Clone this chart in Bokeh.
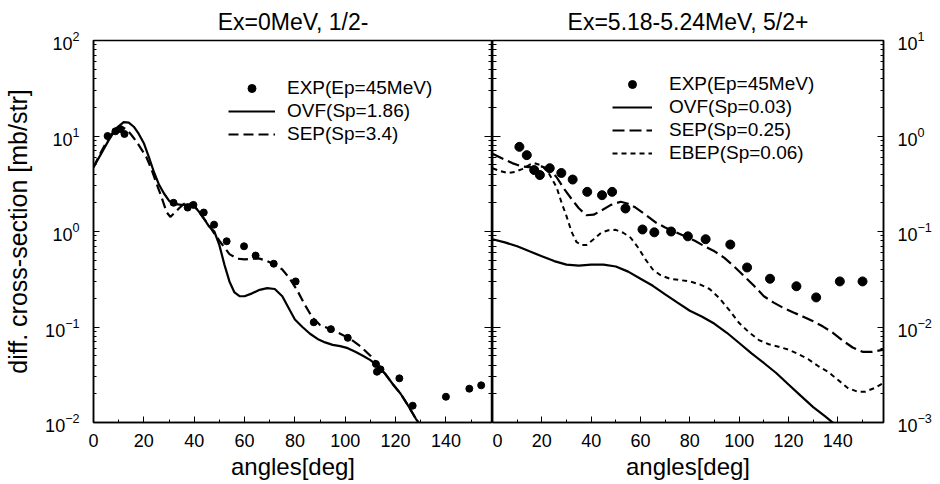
from bokeh.plotting import figure
from bokeh.layouts import row
from bokeh.models import (Range1d, FixedTicker, LogAxis, Legend, LegendItem,
                          LogTickFormatter, CustomJSTickFormatter)
from bokeh.embed import file_html
from bokeh.resources import INLINE

FONT = "Liberation Sans"

# ---------------- data: left panel (Ex=0MeV, 1/2-) ----------------
l_exp_x = [5.6, 8.7, 10.7, 12.3, 31.8, 37.4, 39.7, 43.8, 47.9, 52.9, 59.8, 64.4,
           71.6, 80.3, 87.5, 94.3, 101.0, 112.2, 112.6, 114.0, 121.5, 126.8,
           140.0, 149.3, 154.0]
l_exp_y = [10.0, 11.2, 11.8, 10.5, 2.0, 1.78, 1.9, 1.58, 1.18, 0.79, 0.70, 0.56,
           0.46, 0.30, 0.112, 0.095, 0.077, 0.041, 0.034, 0.036, 0.029, 0.015,
           0.0186, 0.0226, 0.0245]

l_ovf_x = [0, 3, 6, 9, 12, 14, 16, 18, 20, 22, 24, 26, 28, 30, 32, 35, 38, 40, 42,
           44, 46, 48, 50, 52, 54, 56, 58, 60, 63, 66, 69, 72, 75, 78, 80, 83, 86,
           89, 92, 95, 98, 101, 104, 107, 110, 113, 116, 119, 122, 125, 128, 131]
l_ovf_y = [4.7, 6.5, 9.0, 12.0, 14.0, 13.8, 12.5, 10.5, 8.4, 6.0, 4.2, 3.1, 2.5,
           2.1, 1.95, 1.9, 1.92, 1.85, 1.6, 1.35, 1.12, 1.0, 0.72, 0.45, 0.3, 0.23,
           0.21, 0.21, 0.225, 0.245, 0.255, 0.25, 0.21, 0.15, 0.12, 0.10, 0.085,
           0.075, 0.069, 0.065, 0.063, 0.06, 0.055, 0.05, 0.045, 0.039, 0.032,
           0.025, 0.02, 0.015, 0.011, 0.0085]

l_sep_x = [0, 3, 6, 9, 11, 13, 15, 17, 19, 21, 23, 25, 27, 29, 30.5, 32, 34, 36,
           38, 40, 42, 44, 46, 48, 50, 52, 54, 57, 60, 63, 66, 69, 72, 75, 78, 81,
           84, 87, 90, 94, 98, 102, 106, 110, 113, 116, 119, 122, 125, 128, 131]
l_sep_y = [4.7, 6.8, 9.5, 12.0, 12.5, 11.8, 10.3, 8.8, 7.3, 6.0, 4.5, 3.2, 2.3,
           1.6, 1.42, 1.55, 1.75, 1.95, 2.0, 1.85, 1.6, 1.35, 1.15, 0.95, 0.8,
           0.68, 0.58, 0.52, 0.51, 0.52, 0.52, 0.49, 0.45, 0.40, 0.32, 0.24, 0.17,
           0.125, 0.105, 0.095, 0.085, 0.075, 0.063, 0.05, 0.04, 0.032, 0.025,
           0.02, 0.015, 0.011, 0.0085]

# ---------------- data: right panel (Ex=5.18-5.24MeV, 5/2+) ----------------
r_exp_x = [10.9, 13.9, 16.9, 19.2, 23.2, 27.9, 32.5, 38.4, 44.4, 48.5, 53.9, 60.8,
           65.6, 72.4, 79.2, 86.4, 96.4, 103.2, 112.5, 123.2, 131.2, 140.8, 150.0]
r_exp_y = [0.77, 0.63, 0.44, 0.39, 0.46, 0.41, 0.35, 0.26, 0.24, 0.26, 0.174,
           0.105, 0.098, 0.10, 0.089, 0.083, 0.073, 0.042, 0.032, 0.0267, 0.0204,
           0.030, 0.030]

r_ovf_x = [0, 5, 10, 15, 20, 25, 30, 35, 40, 45, 50, 55, 60, 65, 70, 75, 80, 85,
           90, 95, 100, 105, 110, 115, 120, 125, 130, 135, 140]
r_ovf_y = [0.083, 0.077, 0.07, 0.062, 0.055, 0.049, 0.045, 0.044, 0.045, 0.045,
           0.043, 0.038, 0.032, 0.027, 0.022, 0.018, 0.0148, 0.0128, 0.0108,
           0.0087, 0.0068, 0.0053, 0.0042, 0.0033, 0.0025, 0.0019, 0.00145,
           0.00115, 0.0009]

r_sep_x = [0, 4, 8, 12, 16, 20, 23, 26, 29, 32, 35, 38, 41, 44, 48, 52, 55, 58,
           62, 66, 70, 74, 78, 82, 86, 90, 94, 98, 102, 106, 110, 114, 118, 122,
           126, 130, 134, 138, 142, 146, 150, 154, 158.5]
r_sep_y = [0.65, 0.58, 0.52, 0.48, 0.47, 0.48, 0.45, 0.37, 0.28, 0.22, 0.175,
           0.148, 0.15, 0.165, 0.19, 0.205, 0.195, 0.178, 0.15, 0.125, 0.11,
           0.099, 0.089, 0.08, 0.07, 0.062, 0.053, 0.043, 0.034, 0.027, 0.021,
           0.018, 0.0158, 0.0142, 0.0128, 0.0115, 0.0101, 0.0087, 0.0072, 0.0061,
           0.0055, 0.0055, 0.0058]

r_ebep_x = [0, 3, 6, 9, 12, 15, 17, 20, 23, 26, 28, 30, 32, 34, 36, 38, 41, 44,
            47, 50, 53, 56, 59, 62, 65, 68, 72, 76, 80, 84, 88, 92, 96, 100, 104,
            108, 112, 116, 120, 124, 128, 132, 136, 140, 144, 148, 151, 155, 158.5]
r_ebep_y = [0.46, 0.43, 0.41, 0.42, 0.45, 0.5, 0.52, 0.49, 0.40, 0.29, 0.2, 0.145,
            0.1, 0.078, 0.072, 0.072, 0.083, 0.097, 0.103, 0.104, 0.097, 0.086,
            0.068, 0.051, 0.04, 0.035, 0.032, 0.031, 0.03, 0.028, 0.025, 0.020,
            0.015, 0.011, 0.0088, 0.0073, 0.0066, 0.0062, 0.0058, 0.0052, 0.0046,
            0.0039, 0.0034, 0.0028, 0.0023, 0.0021, 0.0021, 0.0023, 0.0026]

x_ticks = [0, 20, 40, 60, 80, 100, 120, 140]
x_minor = [10, 30, 50, 70, 90, 110, 130, 150]
panel_titles = ["Ex=0MeV, 1/2-", "Ex=5.18-5.24MeV, 5/2+"]
x_label = "angles[deg]"
y_label = "diff. cross-section [mb/str]"
leg_left = ["EXP(Ep=45MeV)", "OVF(Sp=1.86)", "SEP(Sp=3.4)"]
leg_right = ["EXP(Ep=45MeV)", "OVF(Sp=0.03)", "SEP(Sp=0.25)", "EBEP(Sp=0.06)"]


def decades(lo, hi):
    major = [10.0 ** e for e in range(lo, hi + 1)]
    minor = [k * 10.0 ** e for e in range(lo, hi) for k in range(2, 10)]
    return major, minor


def style_x(ax):
    ax.ticker = FixedTicker(ticks=x_ticks, minor_ticks=x_minor)
    ax.major_tick_in = 6
    ax.major_tick_out = 0
    ax.minor_tick_in = 3
    ax.minor_tick_out = 0
    ax.axis_line_color = "black"
    ax.axis_line_width = 1.5
    ax.major_label_text_font = FONT
    ax.major_label_text_font_size = "18px"
    ax.major_label_text_color = "black"
    ax.major_label_standoff = 11
    ax.axis_label = x_label
    ax.axis_label_text_font = FONT
    ax.axis_label_text_font_size = "24px"
    ax.axis_label_text_font_style = "normal"
    ax.axis_label_text_color = "black"
    ax.axis_label_standoff = 3


def style_y(ax, lo, hi, tin=6, tout=0, labels=True):
    major, minor = decades(lo, hi)
    ax.ticker = FixedTicker(ticks=major, minor_ticks=minor)
    ax.major_tick_in = tin
    ax.major_tick_out = tout
    ax.minor_tick_in = 3 if tin <= 6 else 4
    ax.minor_tick_out = 0 if tout == 0 else 4
    ax.axis_line_color = "black"
    ax.axis_line_width = 1.5
    if labels:
        ax.formatter = LogTickFormatter()
        ax.major_label_text_font = FONT
        ax.major_label_text_font_size = "18px"
        ax.major_label_text_color = "black"
        ax.major_label_standoff = 14
    else:
        ax.formatter = CustomJSTickFormatter(code="return ''")
        ax.major_label_text_font_size = "0px"
        ax.major_label_standoff = 0


def make_fig(title, width, mbl, mbr, ylo, yhi, yloc):
    p = figure(width=width, height=482, x_range=Range1d(0, 158.5),
               y_range=Range1d(10.0 ** ylo, 10.0 ** yhi), y_axis_type="log",
               y_axis_location=yloc,
               output_backend="svg", toolbar_location=None,
               min_border_left=mbl, min_border_right=mbr,
               min_border_top=40, min_border_bottom=58)
    p.title.text = title
    p.title.align = "center"
    p.title.text_font = FONT
    p.title.text_font_size = "23px"
    p.title.text_font_style = "normal"
    p.title.text_color = "black"
    p.title.standoff = 12
    p.xgrid.visible = False
    p.ygrid.visible = False
    p.outline_line_color = "black"
    p.outline_line_width = 1.5
    p.background_fill_color = "white"
    p.border_fill_color = "white"
    style_x(p.xaxis[0])
    return p


def make_legend(items, loc, gw, standoff):
    lg = Legend(items=items, location=loc, glyph_width=gw, glyph_height=20,
                label_height=20, spacing=1, padding=0, margin=0,
                label_standoff=standoff, label_text_font=FONT,
                label_text_font_size="19px", label_text_color="black",
                background_fill_alpha=0, border_line_alpha=0)
    return lg


# ---------------- left figure ----------------
p1 = make_fig(panel_titles[0], 492, 93, 0, -2, 2, "left")
style_y(p1.yaxis[0], -2, 2, tin=6)
p1.yaxis[0].axis_label = y_label
p1.yaxis[0].axis_label_text_font = FONT
p1.yaxis[0].axis_label_text_font_size = "25px"
p1.yaxis[0].axis_label_text_font_style = "normal"
p1.yaxis[0].axis_label_text_color = "black"
p1.yaxis[0].axis_label_standoff = 10
rax1 = LogAxis()
style_y(rax1, -2, 2, tin=8, labels=False)
p1.add_layout(rax1, "right")

e1 = p1.scatter(l_exp_x, l_exp_y, size=7, color="black")
o1 = p1.line(l_ovf_x, l_ovf_y, line_width=2.2, color="black")
s1 = p1.line(l_sep_x, l_sep_y, line_width=2.2, color="black", line_dash="10 5")
lg1 = make_legend([LegendItem(label=leg_left[0], renderers=[e1]),
                   LegendItem(label=leg_left[1], renderers=[o1]),
                   LegendItem(label=leg_left[2], renderers=[s1])],
                  (135, 277), 47, 12)
p1.add_layout(lg1, "center")

# ---------------- right figure ----------------
p2 = make_fig(panel_titles[1], 442, 0, 46, -3, 1, "right")
style_y(p2.yaxis[0], -3, 1, tin=6)
lax2 = LogAxis()
style_y(lax2, -3, 1, tin=8, labels=False)
p2.add_layout(lax2, "left")

e2 = p2.scatter(r_exp_x, r_exp_y, size=9, color="black")
o2 = p2.line(r_ovf_x, r_ovf_y, line_width=2.2, color="black")
s2 = p2.line(r_sep_x, r_sep_y, line_width=2.2, color="black", line_dash="12 5")
b2 = p2.line(r_ebep_x, r_ebep_y, line_width=2.0, color="black", line_dash="5 4")
lg2 = make_legend([LegendItem(label=leg_right[0], renderers=[e2]),
                   LegendItem(label=leg_right[1], renderers=[o2]),
                   LegendItem(label=leg_right[2], renderers=[s2]),
                   LegendItem(label=leg_right[3], renderers=[b2])],
                  (120, 258), 40, 17)
p2.add_layout(lg2, "center")

layout = row(p1, p2)
open("out.html", "w").write(file_html(layout, INLINE))
